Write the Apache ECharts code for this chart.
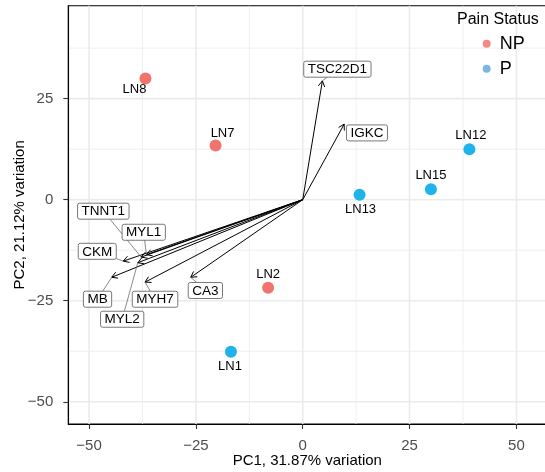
<!DOCTYPE html>
<html>
<head>
<meta charset="utf-8">
<script src="https://cdn.jsdelivr.net/npm/echarts@6/dist/echarts.min.js"></script>
<style>
  html, body { margin: 0; padding: 0; background: #ffffff; }
  #chart { width: 545px; height: 472px; }
</style>
</head>
<body>
<div id="chart"></div>
<script>
// ---- sample scores on the first two principal components ----
const samples    = ['LN8', 'LN7', 'LN12', 'LN13', 'LN15', 'LN2', 'LN1'];
const pc1Scores  = [-36.8, -20.4, 39.0, 13.3, 30.0, -8.1, -16.8];
const pc2Scores  = [30.0, 13.4, 12.5, 1.2, 2.6, -21.8, -37.6];
const painStatus = ['NP', 'NP', 'P', 'P', 'P', 'NP', 'P'];
const statusLevels = ['NP', 'P'];

// ---- gene loadings (scaled to the score space) ----
const genes       = ['TSC22D1', 'IGKC', 'TNNT1', 'MYL1', 'CKM', 'MB', 'MYL2', 'MYH7', 'CA3'];
const loadingsPC1 = [4.6, 9.7, -37.8, -36.6, -42.0, -44.7, -38.6, -36.9, -26.2];
const loadingsPC2 = [29.4, 18.7, -14.2, -13.6, -15.2, -19.2, -15.6, -20.4, -19.2];

// ---- axis breaks ----
const xMajorBreaks = [-50, -25, 0, 25, 50];
const xMinorBreaks = [-37.5, -12.5, 12.5, 37.5];
const yMajorBreaks = [-50, -25, 0, 25];
const yMinorBreaks = [-37.5, -12.5, 12.5, 37.5];

const xTitle = 'PC1, 31.87% variation';
const yTitle = 'PC2, 21.12% variation';
const legendTitle = 'Pain Status';

// ---- layout / styling ----
const FONT = '"Liberation Sans", Arial, Helvetica, sans-serif';
const X_RANGE = [-54.86, 57.0];
const Y_RANGE = [-55.5, 48.0];
const pointColors  = { NP: '#F0736D', P: '#1DB4EA' };
const legendColors = { NP: '#F28A83', P: '#78B6E6' };

// pixel offsets of sample labels from their points
const sampleLabelOffset = {
  LN8: [-11, 10.5], LN7: [7, -12.5], LN12: [1.5, -14], LN13: [1, 14.5],
  LN15: [0, -13.5], LN2: [0, -13.5], LN1: [-1, 15]
};
// pixel offsets of gene label boxes from their arrow tips (repelled positions)
const geneLabelOffset = {
  TSC22D1: [15, -11.7], IGKC: [22.8, 8.8], TNNT1: [-37.9, -45.9], MYL1: [-2.6, -22.4],
  CKM: [-26, -9.8], MB: [-14.2, 21.9], MYL2: [-15.6, 56.5], MYH7: [10, 17.1], CA3: [14.6, 13.2]
};

const fmtTick = v => (v < 0 ? '\u2212' + Math.abs(v) : String(v));

const measureCtx = document.createElement('canvas').getContext('2d');
function textWidth(str, size) {
  measureCtx.font = size + 'px ' + FONT;
  return measureCtx.measureText(str).width;
}

const chart = echarts.init(document.getElementById('chart'), null, { renderer: 'canvas' });

// gridlines drawn as a custom series so they sit on the chosen breaks
function gridSeries(breaks, isMajor, dim) {
  return {
    type: 'custom',
    silent: true,
    z: 0,
    data: breaks.map(v => [v]),
    encode: dim === 'x' ? { x: 0 } : { y: 0 },
    renderItem(params, api) {
      const cs = params.coordSys;
      const v = api.value(0);
      let shape;
      if (dim === 'x') {
        const px = api.coord([v, 0])[0];
        shape = { x1: px, y1: cs.y, x2: px, y2: cs.y + cs.height };
      } else {
        const py = api.coord([0, v])[1];
        shape = { x1: cs.x, y1: py, x2: cs.x + cs.width, y2: py };
      }
      return {
        type: 'line', shape,
        style: { stroke: '#EBEBEB', lineWidth: isMajor ? 1.6 : 0.8 }
      };
    }
  };
}

const arrowSeries = {
  type: 'custom',
  silent: true,
  z: 3,
  data: genes.map((g, i) => [loadingsPC1[i], loadingsPC2[i]]),
  encode: { x: 0, y: 1 },
  renderItem(params, api) {
    const o = api.coord([0, 0]);
    const t = api.coord([api.value(0), api.value(1)]);
    const ang = Math.atan2(t[1] - o[1], t[0] - o[0]);
    const L = 6.5, A = Math.PI / 6;
    const h1 = [t[0] - L * Math.cos(ang - A), t[1] - L * Math.sin(ang - A)];
    const h2 = [t[0] - L * Math.cos(ang + A), t[1] - L * Math.sin(ang + A)];
    return {
      type: 'group',
      children: [
        { type: 'line', shape: { x1: o[0], y1: o[1], x2: t[0], y2: t[1] },
          style: { stroke: '#000', lineWidth: 1 } },
        { type: 'polyline', shape: { points: [h1, t, h2] },
          style: { stroke: '#000', lineWidth: 1, fill: null } }
      ]
    };
  }
};

const geneLabelSeries = {
  type: 'custom',
  silent: true,
  z: 4,
  data: genes.map((g, i) => [loadingsPC1[i], loadingsPC2[i]]),
  encode: { x: 0, y: 1 },
  renderItem(params, api) {
    const name = genes[params.dataIndex];
    const t = api.coord([api.value(0), api.value(1)]);
    const off = geneLabelOffset[name];
    const cx = t[0] + off[0], cy = t[1] + off[1];
    const w = textWidth(name, 13.5) + 8, h = 16;
    const children = [];
    // segment along the line from the box centre towards the tip
    const dx = t[0] - cx, dy = t[1] - cy;
    const s = Math.min(
      dx !== 0 ? (w / 2) / Math.abs(dx) : Infinity,
      dy !== 0 ? (h / 2) / Math.abs(dy) : Infinity
    );
    if (s < 1) {
      const ex = cx + dx * s, ey = cy + dy * s;
      const len = Math.hypot(t[0] - ex, t[1] - ey);
      if (len > 6) {
        children.push({ type: 'line', shape: { x1: ex, y1: ey, x2: t[0], y2: t[1] },
          style: { stroke: '#6b6b6b', lineWidth: 0.8 } });
      }
    }
    children.push({ type: 'rect',
      shape: { x: cx - w / 2, y: cy - h / 2, width: w, height: h, r: 2 },
      style: { fill: '#ffffff', stroke: '#555555', lineWidth: 0.8 } });
    children.push({ type: 'text',
      style: { text: name, x: cx, y: cy + 0.5, align: 'center', verticalAlign: 'middle',
               font: '13.5px ' + FONT, fill: '#000000' } });
    return { type: 'group', children };
  }
};

const pointSeries = statusLevels.map(level => ({
  name: level,
  type: 'scatter',
  z: 5,
  symbol: 'circle',
  symbolSize: 12,
  itemStyle: { color: pointColors[level], opacity: 1 },
  emphasis: { disabled: true },
  data: samples
    .map((s, i) => ({ s, i }))
    .filter(d => painStatus[d.i] === level)
    .map(d => ({
      name: d.s,
      value: [pc1Scores[d.i], pc2Scores[d.i]],
      label: { offset: sampleLabelOffset[d.s] }
    })),
  label: {
    show: true, position: 'inside', formatter: '{b}',
    color: '#000', fontSize: 13, fontFamily: FONT
  }
}));

const option = {
  animation: false,
  backgroundColor: '#ffffff',
  title: {
    text: legendTitle, left: 457, top: 12, padding: 0,
    textStyle: { fontSize: 16, fontWeight: 'normal', color: '#000', fontFamily: FONT }
  },
  legend: {
    orient: 'vertical', left: 482.7, top: 34.8, padding: 0,
    itemWidth: 8, itemHeight: 8, itemGap: 7, icon: 'circle',
    textStyle: { fontSize: 18, color: '#000', fontFamily: FONT, padding: [0, 0, 0, 4] },
    data: statusLevels.map(l => ({ name: l, itemStyle: { color: legendColors[l] } })),
    selectedMode: false
  },
  grid: {
    left: 68.3, top: 5.7, width: 478, height: 418.3,
    outerBoundsMode: 'none', containLabel: false,
    show: true, borderColor: '#000', borderWidth: 1.1, backgroundColor: 'transparent'
  },
  xAxis: {
    type: 'value', min: X_RANGE[0], max: X_RANGE[1],
    name: xTitle, nameLocation: 'middle', nameGap: 29, nameMoveOverlap: false,
    nameTextStyle: { fontSize: 15, color: '#000', fontFamily: FONT },
    axisLine: { show: true, onZero: false, lineStyle: { color: '#000', width: 1.1 } },
    axisTick: { show: true, length: 5, customValues: xMajorBreaks, lineStyle: { color: '#333', width: 1.1 } },
    axisLabel: { customValues: xMajorBreaks, formatter: fmtTick, margin: 14,
                 fontSize: 15, color: '#4D4D4D', fontFamily: FONT },
    splitLine: { show: false }
  },
  yAxis: {
    type: 'value', min: Y_RANGE[0], max: Y_RANGE[1],
    name: yTitle, nameLocation: 'middle', nameGap: 40.5, nameMoveOverlap: false,
    nameTextStyle: { fontSize: 15, color: '#000', fontFamily: FONT },
    axisLine: { show: true, onZero: false, lineStyle: { color: '#000', width: 1.1 } },
    axisTick: { show: true, length: 5, customValues: yMajorBreaks, lineStyle: { color: '#333', width: 1.1 } },
    axisLabel: { customValues: yMajorBreaks, formatter: fmtTick, margin: 15,
                 fontSize: 15, color: '#4D4D4D', fontFamily: FONT },
    splitLine: { show: false }
  },
  series: [
    gridSeries(xMinorBreaks, false, 'x'),
    gridSeries(yMinorBreaks, false, 'y'),
    gridSeries(xMajorBreaks, true, 'x'),
    gridSeries(yMajorBreaks, true, 'y'),
    arrowSeries,
    geneLabelSeries,
    ...pointSeries
  ]
};

chart.setOption(option);
</script>
</body>
</html>
